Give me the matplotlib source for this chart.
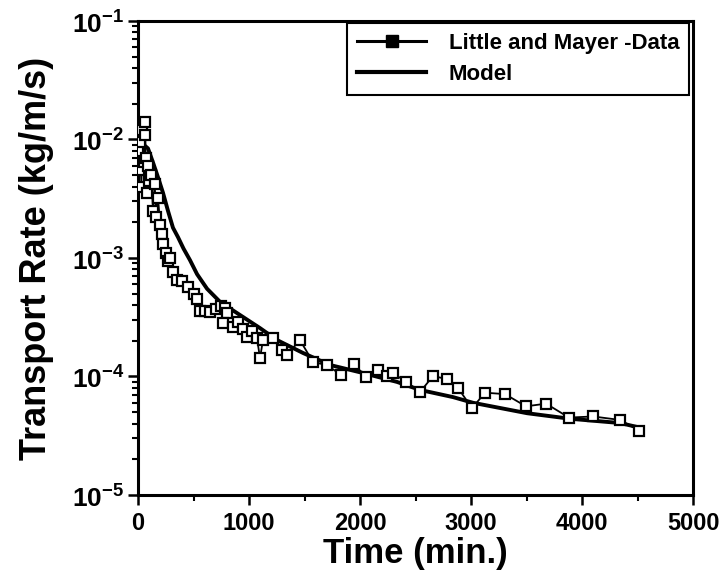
import matplotlib
matplotlib.use("Agg")
import matplotlib.pyplot as plt
from matplotlib.ticker import LogLocator, NullFormatter, MultipleLocator
from matplotlib.lines import Line2D

plt.rcParams['font.family'] = ['Liberation Sans', 'DejaVu Sans']
plt.rcParams['font.weight'] = 'bold'
plt.rcParams['mathtext.fontset'] = 'custom'
plt.rcParams['mathtext.rm'] = 'Liberation Sans:bold'
plt.rcParams['mathtext.bf'] = 'Liberation Sans:bold'

# Little and Mayer measured data (time in min, rate in kg/m/s)
data_t = [0, 10, 20, 30, 40, 50, 60, 65, 70, 80, 90, 100, 120, 135, 150, 165,
          180, 200, 215, 225, 250, 270, 290, 315, 350, 400, 450, 500, 532, 559,
          600, 649, 700, 750, 784, 802, 770, 856, 900, 950, 982, 1030, 1072,
          1099, 1126, 1216, 1297, 1342, 1459, 1577, 1703, 1829, 1946, 2054,
          2162, 2243, 2297, 2414, 2541, 2658, 2784, 2883, 3009, 3126, 3306,
          3495, 3676, 3883, 4099, 4342, 4514]
data_y = [8.0e-3, 5.5e-3, 9.5e-3, 4.0e-3, 1.2e-2, 6.5e-3, 1.4e-2, 1.1e-2,
          7.0e-3, 3.5e-3, 6.0e-3, 4.5e-3, 5.0e-3, 2.5e-3, 4.2e-3, 2.2e-3,
          3.2e-3, 1.9e-3, 1.6e-3, 1.3e-3, 1.1e-3, 9.5e-4, 1.0e-3, 7.6e-4,
          6.5e-4, 6.4e-4, 5.7e-4, 5.0e-4, 4.5e-4, 3.6e-4, 3.6e-4, 3.5e-4,
          3.7e-4, 3.9e-4, 3.8e-4, 3.4e-4, 2.8e-4, 2.6e-4, 2.9e-4, 2.5e-4,
          2.15e-4, 2.4e-4, 2.1e-4, 1.43e-4, 2.03e-4, 2.1e-4, 1.67e-4, 1.52e-4,
          2.03e-4, 1.32e-4, 1.25e-4, 1.03e-4, 1.27e-4, 9.9e-5, 1.13e-4,
          1.01e-4, 1.07e-4, 9.0e-5, 7.4e-5, 1.01e-4, 9.5e-5, 8.0e-5, 5.4e-5,
          7.3e-5, 7.1e-5, 5.6e-5, 5.9e-5, 4.5e-5, 4.6e-5, 4.3e-5, 3.5e-5]

# Model curve
model_t = [0, 40, 90, 140, 180, 225, 270, 315, 360, 410, 468, 532, 622, 739,
           919, 1099, 1252, 1486, 1730, 2027, 2333, 2541, 2838, 3018, 3505,
           3892, 4342, 4523]
model_y = [9.5e-3, 9.2e-3, 8.4e-3, 6.2e-3, 4.8e-3, 3.55e-3, 2.5e-3, 1.8e-3,
           1.5e-3, 1.2e-3, 9.6e-4, 7.3e-4, 5.5e-4, 4.26e-4, 3.3e-4, 2.56e-4,
           2.03e-4, 1.58e-4, 1.25e-4, 1.07e-4, 9.0e-5, 7.7e-5, 6.7e-5, 6.0e-5,
           4.9e-5, 4.4e-5, 4.05e-5, 3.7e-5]

x_ticks = [0, 1000, 2000, 3000, 4000, 5000]
y_ticks = [1e-5, 1e-4, 1e-3, 1e-2, 1e-1]
y_tick_labels = [r'$10^{-5}$', r'$10^{-4}$', r'$10^{-3}$', r'$10^{-2}$', r'$10^{-1}$']

fig = plt.figure(figsize=(7.21, 5.81), dpi=100)
ax = fig.add_axes([0.1914, 0.148, 0.7698, 0.816])

ax.plot(data_t, data_y, color='black', lw=1.3, marker='s', ms=7,
        mfc='white', mec='black', mew=1.6, zorder=3)
ax.plot(model_t, model_y, color='black', lw=2.8, zorder=2,
        solid_joinstyle='round', solid_capstyle='round')

ax.set_yscale('log')
ax.set_xlim(0, 5000)
ax.set_ylim(1e-5, 1e-1)

ax.set_xticks(x_ticks)
ax.set_xticklabels([str(v) for v in x_ticks])
ax.xaxis.set_minor_locator(MultipleLocator(500))
ax.set_yticks(y_ticks)
ax.set_yticklabels(y_tick_labels)
ax.yaxis.set_minor_locator(LogLocator(base=10, subs=range(2, 10), numticks=20))
ax.yaxis.set_minor_formatter(NullFormatter())

for s in ax.spines.values():
    s.set_linewidth(2.2)
ax.tick_params(axis='both', which='major', direction='out', length=7, width=1.8,
               top=False, right=False)
ax.tick_params(axis='both', which='minor', direction='out', length=4, width=1.5,
               top=False, right=False)
ax.tick_params(axis='x', which='major', pad=5, labelsize=17)
ax.tick_params(axis='y', which='major', pad=3, labelsize=19)

ax.set_xlabel('Time (min.)', fontsize=25, fontweight='bold', labelpad=2)
ax.set_ylabel('Transport Rate (kg/m/s)', fontsize=26, fontweight='bold')
ax.yaxis.set_label_coords(-0.152, 0.5)

handles = [Line2D([], [], color='black', lw=2.2, marker='s', ms=8, mfc='black', mec='black'),
           Line2D([], [], color='black', lw=3.0)]
leg = ax.legend(handles, ['Little and Mayer -Data', 'Model'], loc='upper right',
                bbox_to_anchor=(0.993, 0.996), borderaxespad=0, fancybox=False,
                framealpha=1, edgecolor='black', handlelength=3.1, handletextpad=1.0,
                labelspacing=0.45, borderpad=0.45,
                prop={'family': 'Liberation Sans', 'weight': 'bold', 'size': 16})
leg.get_frame().set_linewidth(1.5)

fig.savefig('out.png', dpi=100)
